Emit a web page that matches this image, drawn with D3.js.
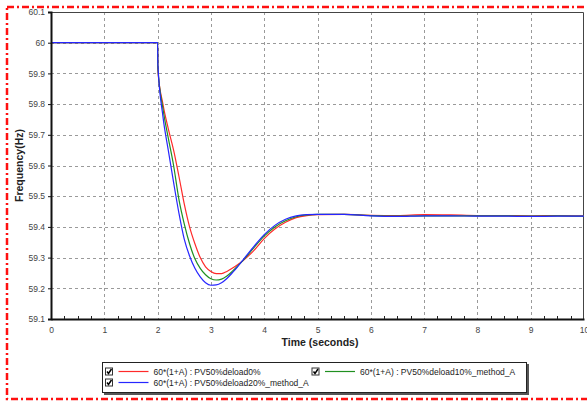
<!DOCTYPE html>
<html lang="en">
  <head>
    <meta charset="utf-8">
    <title>Frequency response</title>
    <script src="https://d3js.org/d3.v7.min.js"></script>
    <style>
      body { margin: 0; background: white; }
      text { font-family: Arial, "Liberation Sans", sans-serif; }
    </style>
  </head>
  <body>
    <script type="text/javascript">

      var w = 587;
      var h = 401;
      var margin = {top: 12, right: 3, bottom: 82, left: 51};
      var innerWidth = w - margin.left - margin.right;
      var innerHeight = h - margin.top - margin.bottom;

      // time (seconds)
      var time = [0, 2, 2.005, 2.1, 2.2, 2.3, 2.4, 2.5, 2.6, 2.7, 2.8, 2.9, 3.0, 3.1, 3.2, 3.3, 3.4, 3.5, 3.6,
                  3.8, 4.0, 4.2, 4.4, 4.6, 4.8, 5.0, 5.5, 6, 6.5, 7, 7.5, 8, 8.5, 9, 9.5, 10];
      var deload0 = [60, 60, 59.91, 59.80, 59.72, 59.65, 59.565, 59.475, 59.40, 59.345, 59.30, 59.27, 59.255, 59.248, 59.248, 59.255, 59.265, 59.277, 59.29,
                     59.322, 59.362, 59.393, 59.415, 59.430, 59.437, 59.440, 59.441, 59.438, 59.437, 59.440, 59.439, 59.437, 59.437, 59.436, 59.437, 59.436];
      var deload10 = [60, 60, 59.92, 59.785, 59.69, 59.60, 59.49, 59.41, 59.345, 59.296, 59.265, 59.244, 59.231, 59.227, 59.23, 59.24, 59.255, 59.272, 59.29,
                      59.331, 59.370, 59.400, 59.420, 59.433, 59.439, 59.441, 59.441, 59.437, 59.435, 59.436, 59.436, 59.436, 59.436, 59.435, 59.436, 59.435];
      var deload20 = [60, 60, 59.93, 59.76, 59.65, 59.545, 59.445, 59.36, 59.305, 59.265, 59.237, 59.218, 59.21, 59.211, 59.218, 59.232, 59.25, 59.27, 59.292,
                      59.335, 59.375, 59.405, 59.425, 59.436, 59.440, 59.441, 59.441, 59.436, 59.434, 59.436, 59.436, 59.435, 59.435, 59.434, 59.435, 59.435];

      var seriesNames = ["60*(1+A) : PV50%deload0%", "60*(1+A) : PV50%deload10%_method_A", "60*(1+A) : PV50%deload20%_method_A"];
      var seriesColors = ["#ff2a2a", "#209020", "#2626ff"];
      var seriesValues = [deload0, deload10, deload20];

      var xTicks = [0, 1, 2, 3, 4, 5, 6, 7, 8, 9, 10];
      var yTicks = [59.1, 59.2, 59.3, 59.4, 59.5, 59.6, 59.7, 59.8, 59.9, 60, 60.1];

      var svg = d3.select("body")
          .append("svg")
          .attr("width", w)
          .attr("height", h);

      svg.append("rect")
          .attr("width", w)
          .attr("height", h)
          .attr("fill", "white");

      // red dash-dot frame
      svg.append("rect")
          .attr("x", 7)
          .attr("y", 7)
          .attr("width", w + 10)
          .attr("height", 392)
          .attr("fill", "none")
          .attr("stroke", "#ff1010")
          .attr("stroke-width", 2.5)
          .attr("stroke-dasharray", "7,3,2,3");

      var xScale = d3.scaleLinear()
          .domain([0, 10])
          .range([0, innerWidth]);

      var yScale = d3.scaleLinear()
          .domain([59.1, 60.1])
          .range([innerHeight, 0]);

      var g = svg.append("g")
          .attr("transform", `translate(${margin.left}, ${margin.top})`);

// grid
      g.append("g").selectAll("line")
          .data(xTicks.slice(1, -1))
          .enter().append("line")
          .attr("x1", function(d) { return Math.round(xScale(d)) + 0.5 })
          .attr("x2", function(d) { return Math.round(xScale(d)) + 0.5 })
          .attr("y1", 0)
          .attr("y2", innerHeight)
          .style("stroke", "#9a9a9a")
          .style("stroke-dasharray", "3,3");

      g.append("g").selectAll("line")
          .data(yTicks.slice(1, -1))
          .enter().append("line")
          .attr("x1", 0)
          .attr("x2", innerWidth)
          .attr("y1", function(d) { return Math.round(yScale(d)) + 0.5 })
          .attr("y2", function(d) { return Math.round(yScale(d)) + 0.5 })
          .style("stroke", "#9a9a9a")
          .style("stroke-dasharray", "3,3");

// frame top/right
      g.append("path")
          .attr("d", `M0.5,0.5H${innerWidth - 0.5}V${innerHeight}`)
          .attr("fill", "none")
          .attr("stroke", "#444")
          .attr("stroke-width", 1);

// curves
      var line = d3.line()
          .x(function(d) { return xScale(d[0]) })
          .y(function(d) { return yScale(d[1]) })
          .curve(d3.curveMonotoneX);

      seriesValues.forEach(function(vals, i) {
        g.append("path")
            .datum(time.map(function(t, k) { return [t, vals[k]] }))
            .attr("d", line)
            .attr("fill", "none")
            .attr("stroke", seriesColors[i])
            .attr("stroke-width", 1.2);
      });

// axes
      var xAxis = d3.axisBottom(xScale)
          .tickValues(xTicks)
          .tickSize(0)
          .tickPadding(8)
          .tickFormat(d3.format("d"));

      var yAxis = d3.axisLeft(yScale)
          .tickValues(yTicks)
          .tickSize(3)
          .tickPadding(3)
          .tickFormat(function(d) { return String(+d.toFixed(1)) });

      var xa = g.append("g")
          .attr("transform", `translate(0, ${innerHeight})`)
          .call(xAxis);

      var ya = g.append("g")
          .call(yAxis);

      // minor ticks on the time axis
      g.append("g").selectAll("line")
          .data(d3.range(1, 40).filter(function(i) { return i % 4 != 0 }).map(function(i) { return i / 4 }))
          .enter().append("line")
          .attr("x1", function(d) { return Math.round(xScale(d)) + 0.5 })
          .attr("x2", function(d) { return Math.round(xScale(d)) + 0.5 })
          .attr("y1", innerHeight)
          .attr("y2", innerHeight - 3)
          .style("stroke", "#222");

      [xa, ya].forEach(function(a) {
        a.select(".domain").attr("stroke", "#111").attr("stroke-width", 2);
        a.selectAll("text").attr("fill", "#444").style("font-size", "8.5px");
        a.selectAll(".tick line").attr("stroke", "#111");
      });

      svg.append("text")
          .attr("transform", `translate(23, ${margin.top + innerHeight / 2}) rotate(-90)`)
          .attr("text-anchor", "middle")
          .style("font-size", "10.5px")
          .style("font-weight", "bold")
          .attr("fill", "#222")
          .text("Frequency(Hz)");

      svg.append("text")
          .attr("x", 320)
          .attr("y", 346)
          .attr("text-anchor", "middle")
          .style("font-size", "10.5px")
          .style("font-weight", "bold")
          .attr("fill", "#222")
          .text("Time (seconds)");

// legend
      var legend = svg.append("g").attr("transform", "translate(102, 362)");
      legend.append("rect")
          .attr("x", 2).attr("y", 2)
          .attr("width", 425).attr("height", 31)
          .attr("fill", "#555");
      legend.append("rect")
          .attr("x", 0.5).attr("y", 0.5)
          .attr("width", 424).attr("height", 30)
          .attr("fill", "white")
          .attr("stroke", "#222");

      var slots = [[3.5, 9.5], [210, 9.5], [3.5, 20.5]];
      seriesNames.forEach(function(name, i) {
        var item = legend.append("g")
            .attr("transform", `translate(${slots[i][0]}, ${slots[i][1]})`);
        item.append("rect")
            .attr("x", 0).attr("y", -3.5)
            .attr("width", 7).attr("height", 7)
            .attr("fill", "white")
            .attr("stroke", "#333");
        item.append("path")
            .attr("d", "M1.5,0 L3,2 L6,-2.5")
            .attr("fill", "none")
            .attr("stroke", "#000")
            .attr("stroke-width", 1.5);
        item.append("line")
            .attr("x1", 13).attr("x2", 43)
            .attr("y1", 0).attr("y2", 0)
            .attr("stroke", seriesColors[i])
            .attr("stroke-width", 1.2);
        item.append("text")
            .attr("x", 48)
            .attr("y", 3)
            .style("font-size", "8.5px")
            .attr("fill", "#222")
            .text(name);
      });

    </script>
  </body>
</html>
